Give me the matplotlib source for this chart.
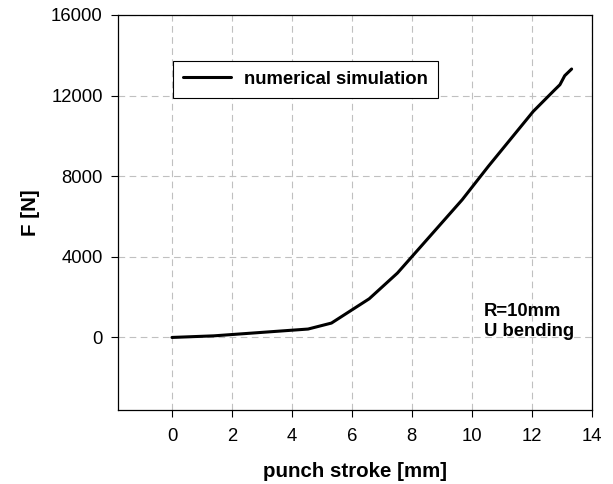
import matplotlib
matplotlib.use("Agg")
import matplotlib.pyplot as plt

# punch stroke [mm] vs force [N]
stroke = [0.0, 1.4, 4.54, 5.32, 6.58, 7.52, 8.01, 9.68, 10.55, 12.05, 12.77, 12.94, 13.1, 13.33]
force = [0, 80, 417, 714, 1920, 3195, 4020, 6833, 8486, 11216, 12293, 12541, 12988, 13320]

xticks = [0, 2, 4, 6, 8, 10, 12, 14]
yticks = [0, 4000, 8000, 12000, 16000]

plt.rcParams['font.family'] = ['Liberation Sans', 'DejaVu Sans']

fig = plt.figure(figsize=(6.13, 4.84), dpi=100)
ax = fig.add_axes([118/613, 1 - 410/484, (591.7 - 118)/613, (410 - 15)/484])

ax.plot(stroke, force, color='black', lw=2.2, solid_capstyle='round',
        label='numerical simulation')

ax.set_xlim(-1.8, 14)
ax.set_ylim(-3600, 16000)
ax.set_xticks(xticks)
ax.set_yticks(yticks)
ax.tick_params(labelsize=13.3, length=5, width=0.8)
ax.tick_params(axis='x', pad=8)
ax.tick_params(axis='y', pad=6)
ax.grid(True, ls=(0, (6, 4)), color='#c0c0c0', lw=0.8)
for s in ax.spines.values():
    s.set_linewidth(0.9)

ax.set_xlabel('punch stroke [mm]', fontsize=14.8, fontweight='bold', labelpad=12)
ax.set_ylabel('F [N]', fontsize=14.8, fontweight='bold', labelpad=8)

ax.text(10.4, 1700, 'R=10mm\nU bending', fontsize=13.3, fontweight='bold',
        va='top', ha='left', linespacing=1.2)

leg = ax.legend(loc='upper left', bbox_to_anchor=((173 - 118)/473.7, 1 - (60.7 - 15)/395),
                prop={'weight': 'bold', 'size': 13.3}, fancybox=False,
                edgecolor='black', framealpha=1, handlelength=2.6,
                handletextpad=0.7, borderpad=0.55, borderaxespad=0)
leg.get_frame().set_linewidth(0.8)

fig.savefig('out.png', dpi=100)
